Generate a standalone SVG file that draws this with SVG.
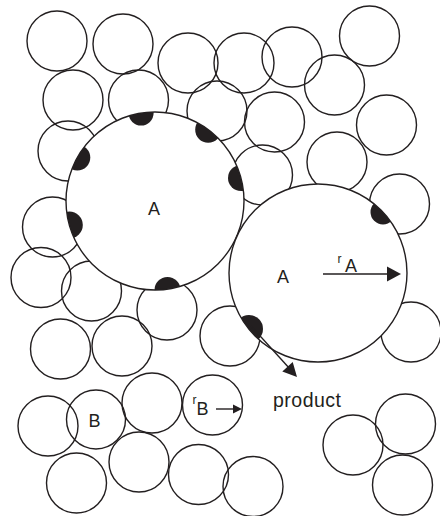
<svg xmlns="http://www.w3.org/2000/svg" width="440" height="516" viewBox="0 0 440 516">
<style>
.p{fill:none;stroke:#231f20;stroke-width:1.4}
.big{fill:#fff;stroke:none}
.bigs{fill:none;stroke:#231f20;stroke-width:1.4}
.dot{fill:#231f20}
.t{font-family:"Liberation Sans",Arial,Helvetica,sans-serif;fill:#231f20}
.ln{stroke:#231f20;stroke-width:1.4;fill:none}
.ah{fill:#231f20}
</style>
<defs>
<clipPath id="cA1"><circle cx="155" cy="201" r="89"/></clipPath>
<clipPath id="cA2"><circle cx="318" cy="273" r="89"/></clipPath>
</defs>
<rect width="440" height="516" fill="#fff"/>
<g id="particles">
<circle class="p" cx="57" cy="41" r="30"/>
<circle class="p" cx="123" cy="44" r="30"/>
<circle class="p" cx="73" cy="100" r="30"/>
<circle class="p" cx="138.5" cy="100" r="30"/>
<circle class="p" cx="68" cy="151" r="30"/>
<circle class="p" cx="188" cy="63" r="30"/>
<circle class="p" cx="244" cy="63" r="30"/>
<circle class="p" cx="217" cy="111" r="30"/>
<circle class="p" cx="292" cy="57" r="30"/>
<circle class="p" cx="274.5" cy="122" r="30"/>
<circle class="p" cx="334.5" cy="85" r="30"/>
<circle class="p" cx="369.5" cy="36" r="30"/>
<circle class="p" cx="386.5" cy="125" r="30"/>
<circle class="p" cx="337" cy="162" r="30"/>
<circle class="p" cx="262.5" cy="175" r="30"/>
<circle class="p" cx="399.5" cy="204" r="30"/>
<circle class="p" cx="52.5" cy="227" r="30"/>
<circle class="p" cx="41" cy="277.5" r="30"/>
<circle class="p" cx="91.5" cy="291" r="30"/>
<circle class="p" cx="167" cy="310" r="30"/>
<circle class="p" cx="60.5" cy="349" r="30"/>
<circle class="p" cx="122" cy="346" r="30"/>
<circle class="p" cx="230" cy="336" r="30"/>
<circle class="p" cx="411" cy="332" r="30"/>
<circle class="p" cx="48" cy="426" r="30"/>
<circle class="p" cx="96" cy="419.5" r="29.5"/>
<circle class="p" cx="152" cy="403" r="30"/>
<circle class="p" cx="212.5" cy="405" r="30"/>
<circle class="p" cx="76.5" cy="483" r="30"/>
<circle class="p" cx="139" cy="462" r="30"/>
<circle class="p" cx="198.5" cy="474.5" r="30"/>
<circle class="p" cx="253" cy="486.5" r="30"/>
<circle class="p" cx="353" cy="445" r="30"/>
<circle class="p" cx="405.5" cy="424" r="30"/>
<circle class="p" cx="402.5" cy="485" r="30"/>
</g>
<g id="A1">
<circle class="big" cx="155" cy="201" r="89"/>
<g clip-path="url(#cA1)">
<circle class="dot" cx="141.1" cy="113.1" r="12.5"/>
<circle class="dot" cx="208.2" cy="129.7" r="13"/>
<circle class="dot" cx="241" cy="178" r="13"/>
<circle class="dot" cx="77.3" cy="157.6" r="13"/>
<circle class="dot" cx="69.3" cy="225" r="13.5"/>
<circle class="dot" cx="167.5" cy="290" r="13"/>
</g>
<circle class="bigs" cx="155" cy="201" r="89"/>
<text class="t" x="148" y="215" font-size="18">A</text>
</g>
<g id="A2">
<circle class="big" cx="318" cy="273" r="89"/>
<g clip-path="url(#cA2)">
<circle class="dot" cx="383" cy="212" r="12.5"/>
<circle class="dot" cx="249" cy="329" r="14"/>
</g>
<circle class="bigs" cx="318" cy="273" r="89"/>
<text class="t" x="277" y="283" font-size="18">A</text>
</g>
<g id="labels">
<text class="t" x="337.5" y="263" font-size="12">r</text>
<text class="t" x="345" y="272" font-size="18">A</text>
<text class="t" x="88.6" y="427" font-size="18">B</text>
<text class="t" x="192.5" y="404" font-size="12">r</text>
<text class="t" x="196.6" y="415" font-size="18">B</text>
<text class="t" x="273" y="407" font-size="19.5" textLength="68" lengthAdjust="spacing">product</text>
</g>
<g id="connectors">
<line class="ln" x1="323" y1="274" x2="389" y2="274"/>
<polygon class="ah" points="401,274 387,266.5 387,281.5"/>
<line class="ln" x1="216" y1="409" x2="235" y2="409"/>
<polygon class="ah" points="242,409 233,404.5 233,413.5"/>
<line class="ln" x1="251" y1="326" x2="290" y2="369"/>
<polygon class="ah" points="297,377 292.7,362 282.3,371.4"/>
</g>
</svg>
